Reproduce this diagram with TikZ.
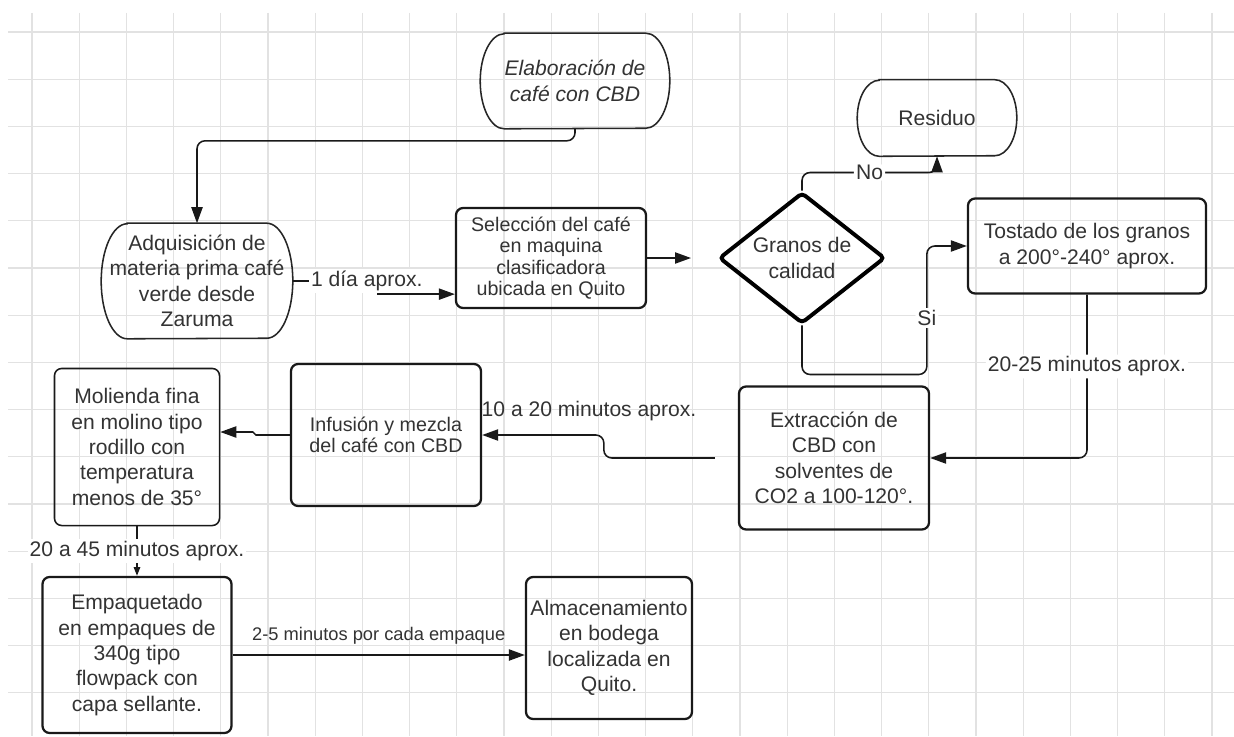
\documentclass[tikz,border=0pt]{standalone}
\usepackage{fontspec}
\setmainfont{Liberation Sans}
\usetikzlibrary{shapes.geometric,arrows.meta,calc}
\definecolor{txt}{HTML}{333333}
\definecolor{gridc}{HTML}{E2E2E2}
\newcommand\txtbig{\fontsize{15}{18.1}\selectfont}
\newcommand\txtsmall{\fontsize{14}{15.3}\selectfont}
\tikzset{
 box/.style={draw=black!90,rounded corners=0.18cm,line width=1.6pt,align=center,text=txt,inner sep=0pt,font=\txtbig},
 term/.style={align=center,text=txt,inner sep=0pt,font=\txtbig},
 termline/.style={draw=black!85,line width=1.1pt},
 dec/.style={diamond,draw=black,line width=2.8pt,rounded corners=0.1cm,aspect=1.27,align=center,text=txt,inner sep=0pt,font=\txtbig},
 lbl/.style={fill=white,inner sep=1.5pt,text=txt,font=\txtbig},
 arr/.style={draw=black!90,line width=1.1pt,-{Triangle[length=0.4cm,width=0.28cm]}},
 smallarr/.style={draw=black!90,line width=1.1pt,-{Triangle[length=0.22cm,width=0.16cm]}},
 gridline/.style={draw=gridc,line width=0.8pt}
}
\newcommand\stadium[3]{\draw[termline]([xshift=#2]#1.north west)--([xshift=-#2]#1.north east)arc[start angle=90,end angle=-90,x radius=#2,y radius=#3]--([xshift=#2]#1.south west)arc[start angle=270,end angle=90,x radius=#2,y radius=#3]--cycle;}
\begin{document}
\begin{tikzpicture}[x=0.025cm,y=0.025cm]
\fill[white](0,0)rectangle(1234,-736);
\useasboundingbox(0,0)rectangle(1234,-736);
\foreach\i in{0,...,25}\draw[gridline]({32+47.2*\i},-13)--({32+47.2*\i},-736);
\foreach\j in{0,...,14}\draw[gridline](8,{-32-47.2*\j})--(1234,{-32-47.2*\j});
\node[term,minimum width=4.725cm,minimum height=2.375cm](elab)at(575,-81){\itshape Elaboración de\\\itshape café con CBD};
\stadium{elab}{0.6cm}{1.1875cm}
\node[term,minimum width=3.975cm,minimum height=1.9cm](res)at(937,-118){Residuo};
\stadium{res}{0.55cm}{0.95cm}
\node[term,minimum width=4.775cm,minimum height=2.875cm](adq)at(197,-281){Adquisición de\\materia prima café\\verde desde\\Zaruma};
\stadium{adq}{0.65cm}{1.4375cm}
\node[box,font=\txtsmall,minimum width=4.75cm,minimum height=2.5cm](sel)at(551,-258){Selección del café\\en maquina\\clasificadora\\ubicada en Quito};
\node[dec,minimum width=4.15cm,minimum height=3.275cm](gran)at(802,-258){Granos de\\calidad};
\node[box,minimum width=5.95cm,minimum height=2.375cm](tost)at(1087,-246){Tostado de los granos\\a 200°-240° aprox.};
\node[box,minimum width=4.75cm,minimum height=3.575cm](extr)at(834,-458){Extracción de\\CBD con\\solventes de\\CO2 a 100-120°.};
\node[box,font=\txtsmall,minimum width=4.75cm,minimum height=3.55cm](inf)at(386,-435){Infusión y mezcla\\del café con CBD};
\node[box,line width=1.1pt,minimum width=4.125cm,minimum height=3.925cm](mol)at(137,-447){Molienda fina\\en molino tipo\\rodillo con\\temperatura\\menos de 35°};
\node[box,minimum width=4.725cm,minimum height=3.9cm](emp)at(137,-655){Empaquetado\\en empaques de\\340g tipo\\flowpack con\\capa sellante.};
\node[box,minimum width=4.15cm,minimum height=3.55cm](alm)at(609,-648){Almacenamiento\\en bodega\\localizada en\\Quito.};
\node[term](t3)at(589,-411){10 a 20 minutos aprox.};
\draw[arr,rounded corners=0.2cm](elab.south)--++(0,-12)-|(adq.north);
\draw[arr](adq.east)--node[lbl,pos=0.87]{1 día aprox.}++(85,0)|-($(sel.south west)+(0,15)$);
\draw[arr,shorten >=0.65cm](sel.east)--(gran.west);
\draw[arr,rounded corners=0.2cm](gran.north)--++(0,18)-|node[lbl,pos=0.25]{No}(res.south);
\draw[arr,rounded corners=0.2cm](gran.south)--++(0,-49)-|node[lbl,pos=0.72]{Si}($(tost.west)+(-40,0)$)--(tost.west);
\draw[arr,rounded corners=0.2cm](tost.south)|-node[lbl,pos=0.22]{20-25 minutos aprox.}(extr.east);
\draw[arr,rounded corners=0.2cm,shorten <=0.575cm](extr.west)--++(-134,0)|-(inf.east);
\draw[arr](inf.west)--++(-34,0)--++(-3,3)--($(mol.east)+(0,15)$);
\draw[smallarr](mol.south)--node[lbl]{20 a 45 minutos aprox.}(emp.north);
\draw[arr](emp.east)--node[above=4pt,text=txt,font=\fontsize{13}{15}\selectfont]{2-5 minutos por cada empaque}(alm.west|-emp.east);
\end{tikzpicture}
\end{document}
